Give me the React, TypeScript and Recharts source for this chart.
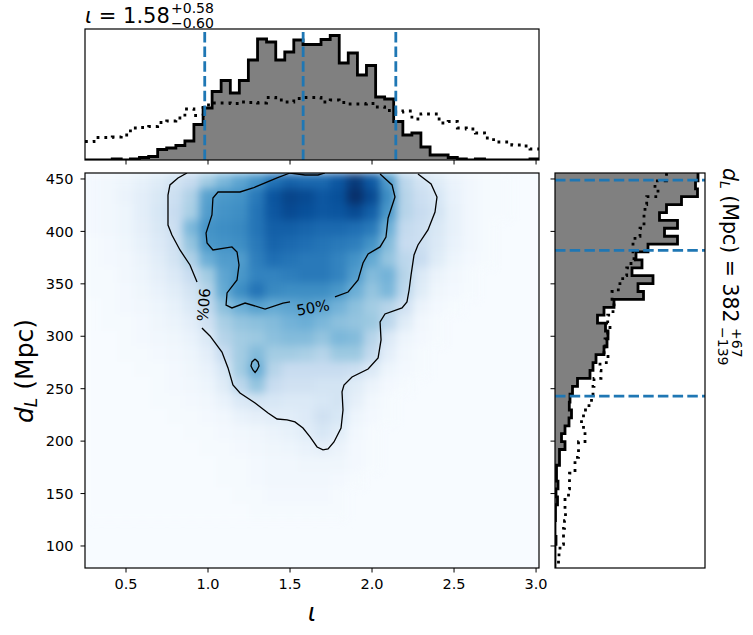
import React from 'react';
import {
  Area,
  ComposedChart,
  Line,
  ReferenceLine,
  Scatter,
  ScatterChart,
  XAxis,
  YAxis,
} from 'recharts';

// Histogram bin edges
const iotaEdges = [
  0.25, 0.305, 0.361, 0.416, 0.471, 0.527, 0.582, 0.638, 0.693, 0.748, 0.804, 0.859, 0.914, 0.97, 1.025, 1.08, 1.136,
  1.191, 1.246, 1.302, 1.357, 1.413, 1.468, 1.523, 1.579, 1.634, 1.689, 1.745, 1.8, 1.855, 1.911, 1.966, 2.022, 2.077,
  2.132, 2.188, 2.243, 2.298, 2.354, 2.409, 2.464, 2.52, 2.575, 2.63, 2.686, 2.741, 2.797, 2.852, 2.907, 2.963, 3.018,
];
const distanceEdges = [
  455.7, 448.2, 440.6, 433.1, 425.6, 418.0, 410.5, 403.0, 395.4, 387.9, 380.4, 372.8, 365.3, 357.8, 350.2, 342.7, 335.2,
  327.6, 320.1, 312.6, 305.0, 297.5, 290.0, 282.4, 274.9, 267.4, 259.8, 252.3, 244.8, 237.2, 229.7, 222.2, 214.6, 207.1,
  199.6, 192.0, 184.5, 177.0, 169.4, 161.9, 154.4, 146.8, 139.3, 131.8, 124.2, 116.7, 109.2, 101.6, 94.1, 86.6, 79.0,
];

const iotaPosterior = [
  0, 0, 0, 1, 0, 1, 2.5, 3.5, 10.5, 12, 14.5, 19, 35.5, 52, 68.5, 79.5, 67, 79.5, 100, 121, 118, 100, 108, 120, 115.5,
  115.5, 120.5, 124.5, 97, 107, 85, 94.5, 63, 61, 38.5, 25, 27, 13, 5, 5, 2.5, 1, 0, 1, 0, 0, 0, 0, 0, 1, 1,
];
const iotaPrior = [
  18.5, 22.5, 22.5, 23, 25, 32, 32.5, 33.5, 37.5, 39, 42, 51, 44.5, 55, 57, 57, 56.5, 58, 57.5, 57, 62.5, 60, 58, 61.5,
  62.5, 62.5, 58, 60, 57.5, 56, 56, 56.5, 53, 49.5, 48, 49, 41, 46, 46, 37, 38.5, 32, 31, 27, 22, 18, 18, 15, 14, 11, 6,
];
const distancePosterior = [
  143, 140.5, 142.5, 126.5, 111.5, 104.5, 122.5, 109.5, 122.5, 93, 81, 87, 77, 98, 83, 88.5, 59, 49, 42.5, 50.5, 53, 52,
  49, 41, 38, 35, 22.5, 17.5, 15, 14.3, 16.5, 14, 10, 6.5, 10, 4.5, 4.5, 1.5, 1.5, 3, 1, 2.5, 0.5, 0.5, 0, 0, 1, 0, 0,
  0, 0,
];
const distancePrior = [
  111.5, 100, 103, 91.7, 90, 89, 89, 85, 80, 78, 79, 76, 71.7, 67.7, 63.3, 57, 59, 58, 52.7, 55, 52.7, 50, 49, 53, 45,
  46, 39, 38, 36.5, 34, 28.5, 26.5, 28.5, 30, 23.5, 23.5, 20, 20, 14.5, 14.5, 13.5, 10, 10, 10.5, 9.5, 8.5, 8.5, 5, 4,
  3.5, 3.5,
];

const iotaQuantiles = [0.98, 1.58, 2.145];
const distanceQuantiles = [449, 382, 243];
const iotaTicks = [0.5, 1.0, 1.5, 2.0, 2.5, 3.0];
const distanceTicks = [100, 150, 200, 250, 300, 350, 400, 450];

// Density on a coarse grid, read by eye, 0-100 of the colormap
const gridIota = [
  0.3, 0.4, 0.5, 0.6, 0.7, 0.8, 0.9, 1.0, 1.1, 1.2, 1.3, 1.4, 1.5, 1.6, 1.7, 1.8, 1.9, 2.0, 2.1, 2.2, 2.3, 2.4, 2.5,
  2.6, 2.7, 2.8, 2.9, 3.0,
];
const gridDistance = [
  448, 433, 418, 403, 388, 373, 358, 343, 328, 313, 298, 283, 268, 253, 238, 223, 208, 193, 178, 163, 148, 133,
];
const density = [
  [2, 3, 5, 8, 12, 18, 24, 36, 46, 54, 62, 74, 80, 78, 78, 85, 96, 84, 58, 28, 18, 12, 6, 3, 1, 1],
  [2, 3, 6, 10, 15, 22, 32, 56, 60, 62, 72, 86, 92, 90, 85, 88, 100, 90, 64, 30, 22, 16, 7, 3, 1, 1],
  [2, 3, 5, 10, 16, 24, 34, 58, 62, 64, 74, 85, 90, 88, 85, 86, 90, 82, 60, 30, 24, 18, 8, 3, 1, 1],
  [2, 3, 5, 9, 15, 22, 46, 62, 64, 66, 74, 82, 82, 80, 78, 78, 76, 72, 50, 26, 22, 15, 8, 3, 1],
  [1, 2, 4, 8, 13, 20, 40, 60, 62, 64, 72, 80, 78, 76, 74, 72, 70, 62, 44, 24, 22, 14, 7, 3, 1],
  [1, 2, 3, 6, 11, 18, 32, 50, 58, 58, 70, 76, 74, 72, 72, 68, 62, 52, 40, 28, 24, 12, 5, 2, 1],
  [1, 1, 3, 5, 9, 14, 24, 36, 54, 60, 68, 68, 70, 72, 72, 68, 58, 44, 48, 30, 14, 6, 3, 1],
  [1, 1, 2, 4, 7, 11, 18, 30, 52, 64, 74, 66, 64, 64, 64, 60, 50, 40, 46, 28, 12, 4, 2, 1],
  [0, 1, 2, 3, 5, 8, 14, 26, 42, 50, 56, 52, 54, 56, 54, 48, 42, 36, 30, 20, 6, 2, 1],
  [0, 1, 1, 2, 4, 6, 10, 20, 34, 40, 42, 44, 48, 50, 46, 42, 40, 38, 28, 12, 3, 1],
  [0, 0, 1, 2, 3, 4, 7, 14, 30, 36, 38, 42, 44, 44, 40, 46, 44, 30, 14, 5, 2, 1],
  [0, 0, 1, 1, 2, 3, 5, 10, 24, 36, 44, 36, 36, 34, 30, 38, 38, 26, 10, 3, 1],
  [0, 0, 0, 1, 1, 2, 4, 7, 16, 36, 50, 30, 24, 24, 24, 24, 22, 14, 5, 2, 1],
  [0, 0, 0, 0, 1, 2, 3, 5, 12, 28, 40, 24, 20, 20, 18, 18, 12, 6, 2, 1],
  [0, 0, 0, 0, 1, 1, 2, 3, 7, 14, 18, 16, 14, 14, 16, 18, 9, 3, 1],
  [0, 0, 0, 0, 0, 1, 1, 2, 3, 7, 9, 11, 11, 13, 20, 16, 5, 2, 1],
  [0, 0, 0, 0, 0, 0, 1, 1, 2, 3, 4, 6, 8, 11, 16, 11, 3, 1],
  [0, 0, 0, 0, 0, 0, 0, 1, 1, 2, 3, 4, 5, 7, 9, 6, 2, 1],
  [0, 0, 0, 0, 0, 0, 0, 0, 1, 1, 2, 3, 3, 4, 4, 4, 2, 1],
  [0, 0, 0, 0, 0, 0, 0, 0, 1, 1, 2, 3, 3, 3, 3, 2, 1],
  [0, 0, 0, 0, 0, 0, 0, 0, 0, 1, 1, 2, 2, 2, 2, 1],
  [0, 0, 0, 0, 0, 0, 0, 0, 0, 0, 1, 1, 1, 1, 1, 1],
];

// Contours as [iota, distance]
const contour90Left = [
  [0.872, 455.7], [0.817, 451], [0.768, 444.3], [0.756, 434.7], [0.756, 406.1], [0.78, 396.6], [0.829, 382.3],
  [0.89, 368], [0.933, 351.8],
];
const contour90Main = [
  [0.963, 307.9], [1.012, 300.3], [1.085, 285], [1.122, 269.8], [1.152, 253.5], [1.195, 245.9], [1.287, 236.4],
  [1.366, 226.8], [1.421, 221.1], [1.482, 220.2], [1.53, 218.3], [1.579, 212.5], [1.622, 204], [1.665, 194.4],
  [1.701, 191.6], [1.732, 192.5], [1.768, 199.2], [1.811, 212.5], [1.823, 229.7], [1.817, 246.9], [1.829, 253.5],
  [1.878, 261.2], [1.976, 268.8], [2.037, 279.3], [2.055, 296.5], [2.049, 313.6], [2.079, 321.3], [2.183, 327],
  [2.213, 332.7], [2.226, 344.1], [2.238, 358.5], [2.256, 377.5], [2.28, 387.1], [2.341, 401.4], [2.384, 418.5],
  [2.396, 432.8], [2.36, 445.2], [2.28, 454.8],
];
const contour50Right = [
  [1.774, 337.5], [1.854, 342.2], [1.915, 353.7], [1.945, 369.9], [1.976, 378.5], [2.049, 385.2], [2.085, 394.7],
  [2.098, 412.8], [2.14, 432.8], [2.122, 444.3], [2.049, 454.8],
];
const contour50Left = [
  [1.713, 455.7], [1.671, 453.8], [1.591, 453.8], [1.5, 455.7], [1.421, 451], [1.274, 441.4], [1.195, 437.6],
  [1.061, 437.6], [1.03, 431.9], [1.024, 415.7], [0.988, 398.5], [0.994, 389], [1.03, 382.3], [1.146, 385.2],
  [1.177, 380.4], [1.189, 368], [1.177, 353.7], [1.116, 341.3], [1.11, 329.8], [1.146, 327], [1.226, 331.7],
  [1.348, 326], [1.457, 331.7], [1.5, 332.7],
];
const contourIsland = [
  [1.287, 278.3], [1.305, 275.5], [1.311, 271.7], [1.299, 267.9], [1.287, 265.5], [1.274, 267.9], [1.262, 271.7],
  [1.268, 275.5], [1.287, 278.3],
];
const contourLabels = [
  { x: 1.64, y: 327, text: '50%', angle: -10 },
  { x: 0.97, y: 330, text: '90%', angle: 95 },
];

const FONT = '"DejaVu Sans", sans-serif';
const BLUE = '#1f77b4';
const IOTA_DOMAIN = [0.25, 3.018];
const DIST_DOMAIN = [79, 455.7];
const HIST_WIDTH = 2.8;

const BLUES = ['#f7fbff', '#deebf7', '#c6dbef', '#9ecae1', '#6baed6', '#4292c6', '#2171b5', '#08519c', '#08306b'];

const toRgb = (hex: string) => [1, 3, 5].map((i) => parseInt(hex.slice(i, i + 2), 16));

const blues = (value: number) => {
  const pos = (Math.min(value, 100) / 100) * (BLUES.length - 1);
  const i = Math.min(Math.floor(pos), BLUES.length - 2);
  const a = toRgb(BLUES[i]);
  const b = toRgb(BLUES[i + 1]);
  const mix = a.map((c, k) => Math.round(c + (b[k] - c) * (pos - i)));
  return `rgb(${mix.join(',')})`;
};

const heatData = density.flatMap((row, j) =>
  row.map((value, i) => ({ x: gridIota[i], y: gridDistance[j], value })),
);
const iotaHist = iotaEdges.map((x, i) => ({ x, posterior: iotaPosterior[i], prior: iotaPrior[i] }));
const distanceHist = distanceEdges.map((d, i) => ({ d, posterior: distancePosterior[i], prior: distancePrior[i] }));
const toPoints = (line: number[][]) => line.map(([x, y]) => ({ x, y }));

const HeatCell = (props: any) => {
  const { cx, cy, payload } = props;
  // top row runs past the plot so the blur does not fade at the frame
  const extra = payload.y === gridDistance[0] ? 40 : 0;
  return <rect x={cx - 8.7} y={cy - 8.3 - extra} width={17.4} height={16.6 + extra} fill={blues(payload.value)} />;
};

const ContourLabel = (props: any) => {
  const { cx, cy, payload } = props;
  return (
    <text
      x={cx}
      y={cy}
      fontFamily={FONT}
      fontSize={15}
      fill="#000"
      textAnchor="middle"
      dominantBaseline="central"
      transform={`rotate(${payload.angle} ${cx} ${cy})`}
    >
      {payload.text}
    </text>
  );
};

const noMark = () => <g />;
const blank = () => '';
const tickStyle = { fontFamily: FONT, fontSize: 14.5, fill: '#000' };
const lineProps = { stroke: '#000', strokeWidth: 1.3 };

const place = (left: number, top: number): React.CSSProperties => ({ position: 'absolute', left, top });

export default function App() {
  return (
    <div style={{ position: 'fixed', left: 0, top: 0, width: 753, height: 635, background: '#fff', overflow: 'hidden' }}>
      {/* density image */}
      <div style={{ ...place(85, 173), width: 454, height: 395, overflow: 'hidden', background: BLUES[0] }}>
        <div style={{ ...place(0, -40), filter: 'blur(4px)' }}>
          <ScatterChart width={454} height={435} margin={{ top: 40, right: 0, bottom: 0, left: 0 }}>
            <XAxis type="number" dataKey="x" domain={IOTA_DOMAIN} hide allowDataOverflow />
            <YAxis type="number" dataKey="y" domain={DIST_DOMAIN} hide allowDataOverflow />
            <Scatter data={heatData} shape={HeatCell} isAnimationActive={false} />
          </ScatterChart>
        </div>
      </div>

      {/* contours and main axes */}
      <div style={place(0, 0)}>
        <ScatterChart width={753} height={635} margin={{ top: 173, right: 214, bottom: 27, left: 15 }}>
          <XAxis
            type="number"
            dataKey="x"
            domain={IOTA_DOMAIN}
            ticks={iotaTicks}
            interval={0}
            height={40}
            tickSize={4.5}
            tickMargin={6}
            axisLine={false}
            tick={tickStyle}
            tickLine={{ stroke: '#000' }}
            tickFormatter={(v: number) => v.toFixed(1)}
            allowDataOverflow
          />
          <YAxis
            type="number"
            dataKey="y"
            domain={DIST_DOMAIN}
            ticks={distanceTicks}
            interval={0}
            width={70}
            tickSize={4.5}
            tickMargin={7}
            axisLine={false}
            tick={tickStyle}
            tickLine={{ stroke: '#000' }}
            allowDataOverflow
          />
          {[contour90Left, contour90Main, contour50Right, contour50Left, contourIsland].map((c, i) => (
            <Scatter key={i} data={toPoints(c)} line={lineProps} shape={noMark} isAnimationActive={false} />
          ))}
          <Scatter data={contourLabels} shape={ContourLabel} isAnimationActive={false} />
        </ScatterChart>
      </div>

      {/* top histogram */}
      <div style={place(85, 29)}>
        <ComposedChart width={454} height={139} data={iotaHist} margin={{ top: 0, right: 0, bottom: 0, left: 0 }}>
          <XAxis
            type="number"
            dataKey="x"
            domain={IOTA_DOMAIN}
            ticks={iotaTicks}
            interval={0}
            height={8}
            tickSize={4.5}
            axisLine={false}
            tickLine={{ stroke: '#000' }}
            tickFormatter={blank}
            allowDataOverflow
          />
          <YAxis type="number" domain={[0, 131]} hide allowDataOverflow />
          <Area
            type="stepAfter"
            dataKey="posterior"
            fill="#808080"
            fillOpacity={1}
            stroke="#000"
            strokeWidth={HIST_WIDTH}
            dot={false}
            activeDot={false}
            isAnimationActive={false}
          />
          <Line
            type="stepAfter"
            dataKey="prior"
            stroke="#000"
            strokeWidth={HIST_WIDTH}
            strokeDasharray="2.8 5"
            dot={false}
            activeDot={false}
            isAnimationActive={false}
          />
          {iotaQuantiles.map((q) => (
            <ReferenceLine
              key={q}
              segment={[{ x: q, y: 0 }, { x: q, y: 128 }]}
              stroke={BLUE}
              strokeWidth={HIST_WIDTH}
              strokeDasharray="10.5 4.2"
            />
          ))}
        </ComposedChart>
      </div>

      {/* right histogram */}
      <div style={place(547, 173)}>
        <ComposedChart
          layout="vertical"
          width={158}
          height={395}
          data={distanceHist}
          margin={{ top: 0, right: 0, bottom: 0, left: 0 }}
        >
          <XAxis type="number" domain={[0, 150]} hide allowDataOverflow />
          <YAxis
            type="number"
            dataKey="d"
            domain={DIST_DOMAIN}
            reversed
            ticks={distanceTicks}
            interval={0}
            width={8}
            tickSize={4.5}
            axisLine={false}
            tickLine={{ stroke: '#000' }}
            tickFormatter={blank}
            allowDataOverflow
          />
          <Area
            type="stepBefore"
            dataKey="posterior"
            fill="#808080"
            fillOpacity={1}
            stroke="#000"
            strokeWidth={HIST_WIDTH}
            dot={false}
            activeDot={false}
            isAnimationActive={false}
          />
          <Line
            type="stepBefore"
            dataKey="prior"
            stroke="#000"
            strokeWidth={HIST_WIDTH}
            strokeDasharray="2.8 5"
            dot={false}
            activeDot={false}
            isAnimationActive={false}
          />
          {distanceQuantiles.map((q) => (
            <ReferenceLine key={q} y={q} stroke={BLUE} strokeWidth={HIST_WIDTH} strokeDasharray="10.5 4.2" />
          ))}
        </ComposedChart>
      </div>

      {/* frames and labels */}
      <svg width={753} height={635} style={{ ...place(0, 0), pointerEvents: 'none' }} fontFamily={FONT} fill="#000">
        <rect x={85} y={29} width={454} height={131} fill="none" stroke="#000" strokeWidth={1.2} />
        <rect x={85} y={173} width={454} height={395} fill="none" stroke="#000" strokeWidth={1.2} />
        <rect x={555} y={173} width={150} height={395} fill="none" stroke="#000" strokeWidth={1.2} />

        <text x={85} y={23} fontSize={21}>
          <tspan fontStyle="italic">ι</tspan> = 1.58
        </text>
        <text x={171} y={13} fontSize={14}>+0.58</text>
        <text x={171} y={27.5} fontSize={14}>−0.60</text>

        <text x={312} y={621} fontSize={25} textAnchor="middle" fontStyle="italic">ι</text>

        <g transform="translate(33 423) rotate(-90)">
          <text fontSize={25}>
            <tspan fontStyle="italic">d</tspan>
            <tspan fontStyle="italic" fontSize={17} dy={4}>L</tspan>
            <tspan dy={-4} xmlSpace="preserve"> (Mpc)</tspan>
          </text>
        </g>

        <g transform="translate(723 168) rotate(90)">
          <text fontSize={20.5}>
            <tspan fontStyle="italic">d</tspan>
            <tspan fontStyle="italic" fontSize={14} dy={3}>L</tspan>
            <tspan dy={-3} xmlSpace="preserve"> (Mpc) = 382</tspan>
          </text>
          <text x={160} y={-9} fontSize={14}>+67</text>
          <text x={159} y={5} fontSize={14}>−139</text>
        </g>
      </svg>
    </div>
  );
}
